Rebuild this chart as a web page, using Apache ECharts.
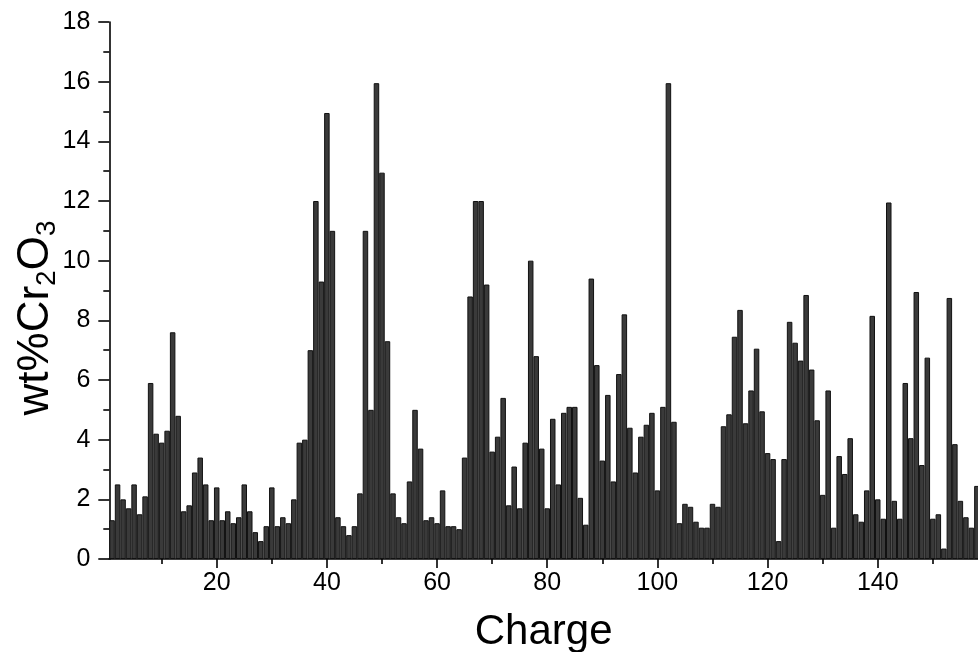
<!DOCTYPE html>
<html>
<head>
<meta charset="utf-8">
<script src="https://cdn.jsdelivr.net/npm/echarts@6/dist/echarts.min.js"></script>
<style>
  html, body { margin: 0; padding: 0; background: #fff; }
  #chart { width: 978px; height: 652px; }
</style>
</head>
<body>
<div id="chart"></div>
<script>
// Cr2O3 content (wt%) for charges 1..158, in charge order
const cr2o3Values = [
  1.3, 2.5, 2.0, 1.7, 2.5, 1.5, 2.1, 5.9, 4.2, 3.9,
  4.3, 7.6, 4.8, 1.6, 1.8, 2.9, 3.4, 2.5, 1.3, 2.4,
  1.3, 1.6, 1.2, 1.4, 2.5, 1.6, 0.9, 0.6, 1.1, 2.4,
  1.1, 1.4, 1.2, 2.0, 3.9, 4.0, 7.0, 12.0, 9.3, 14.95,
  11.0, 1.4, 1.1, 0.8, 1.1, 2.2, 11.0, 5.0, 15.95, 12.95,
  7.3, 2.2, 1.4, 1.2, 2.6, 5.0, 3.7, 1.3, 1.4, 1.2,
  2.3, 1.1, 1.1, 1.0, 3.4, 8.8, 12.0, 12.0, 9.2, 3.6,
  4.1, 5.4, 1.8, 3.1, 1.7, 3.9, 10.0, 6.8, 3.7, 1.7,
  4.7, 2.5, 4.9, 5.1, 5.1, 2.05, 1.15, 9.4, 6.5, 3.3,
  5.5, 2.6, 6.2, 8.2, 4.4, 2.9, 4.1, 4.5, 4.9, 2.3,
  5.1, 15.95, 4.6, 1.2, 1.85, 1.75, 1.25, 1.05, 1.05, 1.85,
  1.75, 4.45, 4.85, 7.45, 8.35, 4.55, 5.65, 7.05, 4.95, 3.55,
  3.35, 0.6, 3.35, 7.95, 7.25, 6.65, 8.85, 6.35, 4.65, 2.15,
  5.65, 1.05, 3.45, 2.85, 4.05, 1.5, 1.25, 2.3, 8.15, 2.0,
  1.35, 11.95, 1.95, 1.35, 5.9, 4.05, 8.95, 3.15, 6.75, 1.35,
  1.5, 0.35, 8.75, 3.85, 1.95, 1.4, 1.05, 2.45
];
const firstCharge = 1;

// Axis ticks
const xMajorTicks = [20, 40, 60, 80, 100, 120, 140];
const xMinorTicks = [10, 30, 50, 70, 90, 110, 130, 150];
const xRange = [0.5, 158.2];
const yRange = [0, 18];
const yStep = 2;

const xTitle = 'Charge';

const FONT = '"Liberation Sans", Arial, Helvetica, sans-serif';

const barData = cr2o3Values.map((v, i) => [firstCharge + i, v]);

const chart = echarts.init(document.getElementById('chart'), null, { renderer: 'canvas' });

chart.setOption({
  animation: false,
  backgroundColor: '#ffffff',
  grid: { left: 109.3, right: 0, top: 22, bottom: 93, containLabel: false, outerBoundsMode: 'none' },
  xAxis: [
    {
      type: 'value',
      min: xRange[0],
      max: xRange[1],
      position: 'bottom',
      name: xTitle,
      nameLocation: 'middle',
      nameGap: 52,
      nameTextStyle: { fontFamily: FONT, fontSize: 42, color: '#000', verticalAlign: 'top' },
      axisLine: { show: true, onZero: false, lineStyle: { color: '#000', width: 1.6 } },
      axisTick: { show: true, customValues: xMajorTicks, length: 9, lineStyle: { color: '#000', width: 1.6 } },
      axisLabel: { show: true, customValues: xMajorTicks, margin: 12, fontFamily: FONT, fontSize: 25, color: '#000' },
      splitLine: { show: false }
    },
    {
      // minor ticks between labelled charges
      type: 'value',
      min: xRange[0],
      max: xRange[1],
      position: 'bottom',
      offset: 0,
      axisLine: { show: false },
      axisTick: { show: true, customValues: xMinorTicks, length: 5, lineStyle: { color: '#000', width: 1.6 } },
      axisLabel: { show: false },
      splitLine: { show: false }
    }
  ],
  yAxis: {
    type: 'value',
    min: yRange[0],
    max: yRange[1],
    interval: yStep,
    axisLine: { show: true, onZero: false, lineStyle: { color: '#000', width: 1.6 } },
    axisTick: { show: true, length: 11, lineStyle: { color: '#000', width: 1.6 } },
    minorTick: { show: true, splitNumber: 2, length: 6, lineStyle: { color: '#000', width: 1.6 } },
    axisLabel: { margin: 19, fontFamily: FONT, fontSize: 25, color: '#000' },
    splitLine: { show: false },
    minorSplitLine: { show: false }
  },
  graphic: [
    {
      type: 'text',
      x: 36,
      y: 318,
      rotation: Math.PI / 2,
      style: {
        text: 'wt%Cr{sub|2}O{sub|3}',
        fontFamily: FONT,
        fontSize: 44,
        fill: '#000',
        align: 'center',
        verticalAlign: 'middle',
        lineHeight: 50,
        rich: {
          sub: { fontFamily: FONT, fontSize: 28, lineHeight: 30, verticalAlign: 'bottom', fill: '#000' }
        }
      }
    }
  ],
  series: [
    {
      type: 'bar',
      xAxisIndex: 0,
      data: barData,
      barWidth: 5.5,
      itemStyle: { color: '#3a3a3a', borderColor: '#111', borderWidth: 1 },
      emphasis: { disabled: true }
    }
  ]
});
</script>
</body>
</html>
